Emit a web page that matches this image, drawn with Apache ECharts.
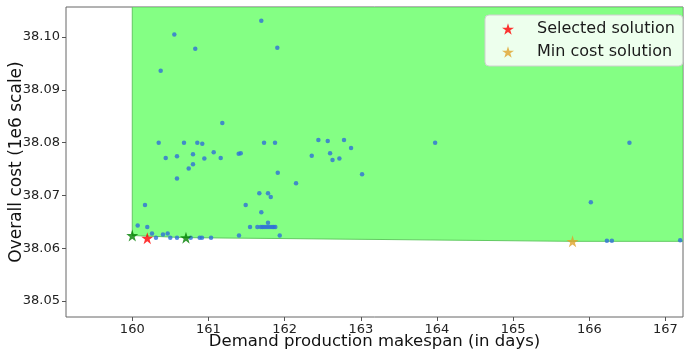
<!DOCTYPE html>
<html lang="en">
  <head>
    <meta charset="UTF-8" />
    <title>Pareto solutions</title>
    <style>
      html, body { margin: 0; padding: 0; background: #fff; }
      #app { width: 684px; height: 351px; }
    </style>
  </head>
  <body>
    <div id="app"></div>
    <script src="https://cdn.jsdelivr.net/npm/echarts@6/dist/echarts.min.js"></script>
    <script>
      // all solutions (makespan in days, cost in 1e6)
      var solutionsMakespan = [
        161.694, 160.552, 160.827, 161.904, 160.373, 161.182, 160.347, 160.679, 160.854, 160.919,
        161.730, 161.874, 160.439, 160.587, 160.797, 160.946, 161.069, 161.161, 161.397, 161.424,
        160.797, 160.741, 160.587, 162.443, 162.566, 162.780, 162.872, 162.356, 162.597, 162.719,
        162.629, 163.976, 161.910, 163.017, 162.150, 161.668, 161.782, 161.818, 161.489, 161.694,
        161.782, 161.546, 161.642, 161.686, 161.707, 161.730, 161.756, 161.782, 161.808, 161.835,
        161.857, 161.878, 161.401, 161.936, 160.167, 160.071, 160.197, 160.259, 160.403, 160.465,
        160.311, 160.499, 160.587, 160.767, 160.885, 160.915, 161.034, 166.527, 166.020, 166.231,
        166.296, 167.193
      ]
      var solutionsCost = [
        38.1031, 38.1005, 38.0978, 38.0980, 38.0936, 38.0837, 38.0800, 38.0800, 38.0800, 38.0798,
        38.0800, 38.0800, 38.0771, 38.0774, 38.0778, 38.0770, 38.0782, 38.0771, 38.0779, 38.0780,
        38.0759, 38.0751, 38.0732, 38.0805, 38.0803, 38.0805, 38.0790, 38.0775, 38.0780, 38.0770,
        38.0767, 38.0800, 38.0743, 38.0740, 38.0723, 38.0704, 38.0704, 38.0697, 38.0682, 38.0668,
        38.0648, 38.0640, 38.0640, 38.0640, 38.0640, 38.0640, 38.0640, 38.0640, 38.0640, 38.0640,
        38.0640, 38.0640, 38.0624, 38.0624, 38.0682, 38.0643, 38.0640, 38.0628, 38.0626, 38.0628,
        38.0620, 38.0620, 38.0620, 38.0620, 38.0620, 38.0620, 38.0620, 38.0800, 38.0687, 38.0614,
        38.0614, 38.0615
      ]

      // pareto front (green stars)
      var frontMakespan = [160.0, 160.705]
      var frontCost = [38.0624, 38.0620]

      var selected = [160.197, 38.0619]
      var minCost = [165.78, 38.0613]

      var xTicks = [160, 161, 162, 163, 164, 165, 166, 167]
      var yTicks = [38.05, 38.06, 38.07, 38.08, 38.09, 38.10]

      var xMin = 159.13, xMax = 167.23
      var yMin = 38.04696, yMax = 38.1057

      var star = 'path://M100,0 L122.45,69.1 L195.11,69.1 L136.33,111.8 L158.78,180.9 L100,138.2 L41.22,180.9 L63.67,111.8 L4.89,69.1 L77.55,69.1 Z'

      // dominated region: above the front, right of the first front point
      var edgeX = frontMakespan.concat([minCost[0]])
      var edgeY = frontCost.concat([minCost[1]])
      var region = [[edgeX[0], yMax]]
      edgeX.forEach(function(x, i) {
        region.push([x, edgeY[i]])
      })
      region.push([xMax, edgeY[edgeY.length - 1]])
      region.push([xMax, yMax])

      var font = 'DejaVu Sans'
      var chart = echarts.init(document.getElementById('app'))

      chart.setOption({
        animation: false,
        grid: {
          left: 66, right: 1, top: 7, bottom: 34,
          outerBoundsMode: 'none',
          show: true, borderColor: '#666', borderWidth: 1
        },
        legend: {
          data: ['Selected solution', 'Min cost solution'],
          orient: 'vertical',
          left: 485, top: 15,
          padding: [6, 8, 6, 17],
          itemGap: 7,
          itemWidth: 12, itemHeight: 12,
          backgroundColor: 'rgba(255,255,255,0.85)',
          borderColor: '#d0d0d0', borderWidth: 1, borderRadius: 4,
          textStyle: {
            fontFamily: font, fontSize: 16, color: '#1a1a1a',
            lineHeight: 16, padding: [0, 0, 0, 18]
          }
        },
        xAxis: {
          type: 'value',
          min: xMin, max: xMax,
          name: 'Demand production makespan (in days)',
          nameLocation: 'middle',
          nameGap: 16,
          nameMoveOverlap: false,
          nameTextStyle: { fontFamily: font, fontSize: 16.5, color: '#111', verticalAlign: 'top' },
          axisLine: { show: false },
          axisTick: { show: true, length: 4, customValues: xTicks, lineStyle: { color: '#555' } },
          axisLabel: {
            customValues: xTicks, margin: 6,
            fontFamily: font, fontSize: 13, color: '#222'
          },
          splitLine: { show: false }
        },
        yAxis: {
          type: 'value',
          min: yMin, max: yMax,
          name: 'Overall cost (1e6 scale)',
          nameLocation: 'middle',
          nameGap: 41,
          nameMoveOverlap: false,
          nameTextStyle: { fontFamily: font, fontSize: 17, color: '#111' },
          axisLine: { show: false },
          axisTick: { show: true, length: 4, customValues: yTicks, lineStyle: { color: '#555' } },
          axisLabel: {
            customValues: yTicks, margin: 6,
            fontFamily: font, fontSize: 13, color: '#222',
            formatter: function(v) { return v.toFixed(2) }
          },
          splitLine: { show: false }
        },
        series: [
          {
            type: 'custom',
            clip: true,
            silent: true,
            z: 1,
            data: [region[1]],
            renderItem: function(params, api) {
              var pts = region.map(function(p) { return api.coord(p) })
              return {
                type: 'polygon',
                shape: { points: pts },
                style: { fill: '#84ff84', stroke: '#62c962', lineWidth: 1 }
              }
            }
          },
          {
            name: 'Solutions',
            type: 'scatter',
            z: 3,
            symbolSize: 4.5,
            itemStyle: { color: '#2f6fd8' },
            data: solutionsMakespan.map(function(x, i) { return [x, solutionsCost[i]] })
          },
          {
            name: 'Pareto front',
            type: 'scatter',
            z: 4,
            symbol: star,
            symbolSize: 12,
            itemStyle: { color: '#008000' },
            data: frontMakespan.map(function(x, i) { return [x, frontCost[i]] })
          },
          {
            name: 'Selected solution',
            type: 'scatter',
            z: 5,
            symbol: star,
            symbolSize: 12,
            itemStyle: { color: '#ff0000' },
            data: [selected]
          },
          {
            name: 'Min cost solution',
            type: 'scatter',
            z: 5,
            symbol: star,
            symbolSize: 12,
            itemStyle: { color: '#e0a22a' },
            data: [minCost]
          }
        ]
      })
    </script>
  </body>
</html>
